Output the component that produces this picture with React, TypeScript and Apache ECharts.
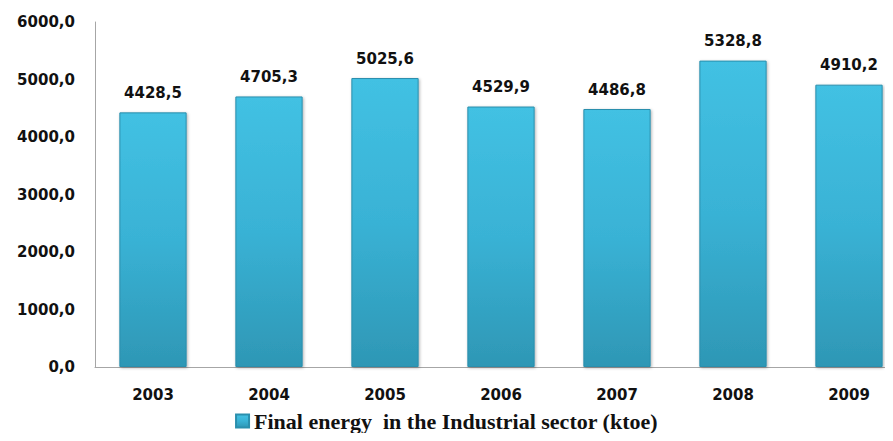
import React, { useEffect, useRef } from "react";
import * as echarts from "echarts";

const years = ["2003", "2004", "2005", "2006", "2007", "2008", "2009"];
const finalEnergy = [4428.5, 4705.3, 5025.6, 4529.9, 4486.8, 5328.8, 4910.2];
const seriesName = "Final energy  in the Industrial sector (ktoe)";

const fmt = (v: number) => v.toFixed(1).replace(".", ",");

export default function App() {
  const ref = useRef<HTMLDivElement>(null);
  useEffect(() => {
    if (!ref.current) return;
    const chart = echarts.init(ref.current, undefined, { renderer: "svg" });
    const barColor = new echarts.graphic.LinearGradient(0, 0, 0, 1, [
      { offset: 0, color: "#42c1e3" },
      { offset: 0.5, color: "#39b2d5" },
      { offset: 1, color: "#2e97b5" },
    ]);
    chart.setOption({
      animation: false,
      backgroundColor: "#ffffff",
      grid: {
        left: 95,
        top: 22,
        width: 812,
        height: 345,
        containLabel: false,
        outerBoundsMode: "none",
      },
      legend: {
        bottom: 4,
        left: "center",
        itemWidth: 13,
        itemHeight: 13,
        itemGap: 6,
        icon: "rect",
        textStyle: {
          fontFamily: "Liberation Serif",
          fontSize: 22,
          fontWeight: "bold",
          color: "#111",
        },
        data: [seriesName],
      },
      xAxis: {
        type: "category",
        data: years,
        axisLine: { show: true, lineStyle: { color: "#a6a6a6", width: 1 } },
        axisTick: { show: false },
        axisLabel: {
          margin: 20,
          fontFamily: "DejaVu Sans",
          fontWeight: "bold",
          fontSize: 15,
          color: "#111",
        },
      },
      yAxis: {
        type: "value",
        min: 0,
        max: 6000,
        interval: 1000,
        splitLine: { show: false },
        axisLine: { show: true, lineStyle: { color: "#a6a6a6", width: 1 } },
        axisTick: { show: false },
        axisLabel: {
          margin: 20,
          formatter: (v: number) => fmt(v),
          fontFamily: "DejaVu Sans",
          fontWeight: "bold",
          fontSize: 15,
          color: "#111",
        },
      },
      series: [
        {
          name: seriesName,
          type: "bar",
          data: finalEnergy,
          barWidth: "58%",
          itemStyle: {
            color: barColor,
            borderColor: "#2a8fad",
            borderWidth: 1,
            shadowColor: "rgba(0,0,0,0.3)",
            shadowBlur: 3,
            shadowOffsetX: 1,
            shadowOffsetY: 1,
          },
          label: {
            show: true,
            position: "top",
            distance: 12,
            formatter: (p: any) => fmt(p.value),
            fontFamily: "DejaVu Sans",
            fontWeight: "bold",
            fontSize: 15,
            color: "#111",
          },
        },
      ],
    });
    return () => chart.dispose();
  }, []);
  return <div ref={ref} style={{ width: 893, height: 441, margin: -8 }} />;
}
